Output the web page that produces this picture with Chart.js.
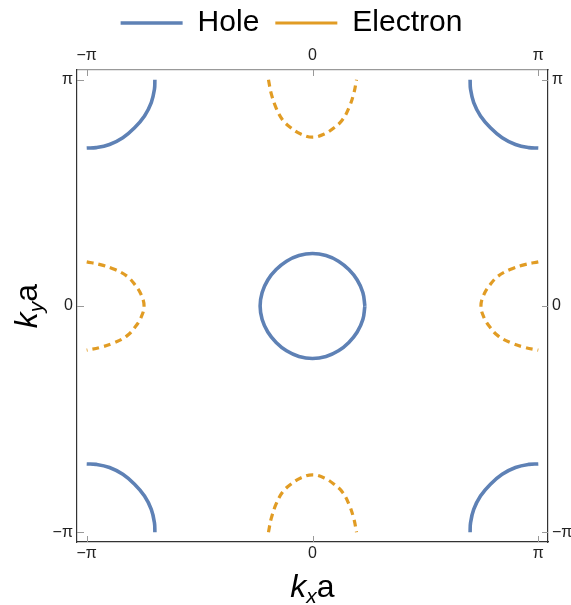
<!DOCTYPE html>
<html><head><meta charset="utf-8">
<script src="https://cdn.jsdelivr.net/npm/chart.js@4/dist/chart.umd.min.js"></script>
<style>html,body{margin:0;padding:0;background:#fff;}canvas{display:block;}</style>
</head><body>
<canvas id="c" width="571" height="605"></canvas>
<script>
// All coordinates are in units of pi (k a / pi)
const tickValues = [-1, 0, 1];
const tickLabels = ['\u2212\u03c0', '0', '\u03c0'];
const axisLimit = 1.043;
const seriesNames = ['Hole', 'Electron'];
const xTitle = ['k', 'x', 'a'];
const yTitle = ['k', 'y', 'a'];

// Hole pocket around Gamma (closed loop)
const holeGX = [0.232,0.223,0.198,0.161,0.115,0.060,0,-0.060,-0.115,-0.161,-0.198,-0.223,-0.232,-0.223,-0.198,-0.161,-0.115,-0.060,0,0.060,0.115,0.161,0.198,0.223,0.232];
const holeGY = [0,0.060,0.115,0.161,0.198,0.223,0.232,0.223,0.198,0.161,0.115,0.060,0,-0.060,-0.115,-0.161,-0.198,-0.223,-0.232,-0.223,-0.198,-0.161,-0.115,-0.060,0];

// Hole pockets at the corners
const holeTLX = [-1.000,-0.958,-0.899,-0.840,-0.788,-0.744,-0.714,-0.700,-0.698];
const holeTLY = [0.698,0.700,0.714,0.744,0.788,0.840,0.899,0.958,1.000];
const holeTRX = [1.000,0.958,0.899,0.840,0.788,0.744,0.714,0.700,0.698];
const holeTRY = [0.698,0.700,0.714,0.744,0.788,0.840,0.899,0.958,1.000];
const holeBLX = [-1.000,-0.958,-0.899,-0.840,-0.788,-0.744,-0.714,-0.700,-0.698];
const holeBLY = [-0.698,-0.700,-0.714,-0.744,-0.788,-0.840,-0.899,-0.958,-1.000];
const holeBRX = [1.000,0.958,0.899,0.840,0.788,0.744,0.714,0.700,0.698];
const holeBRY = [-0.698,-0.700,-0.714,-0.744,-0.788,-0.840,-0.899,-0.958,-1.000];

// Electron pockets at the zone-edge midpoints
const elecTX = [-0.195,-0.183,-0.161,-0.132,-0.096,-0.052,0,0.052,0.096,0.132,0.161,0.183,0.195];
const elecTY = [1.000,0.940,0.875,0.822,0.788,0.760,0.746,0.760,0.788,0.822,0.875,0.940,1.000];
const elecBX = [-0.195,-0.183,-0.161,-0.132,-0.096,-0.052,0,0.052,0.096,0.132,0.161,0.183,0.195];
const elecBY = [-1.000,-0.940,-0.875,-0.822,-0.788,-0.760,-0.746,-0.760,-0.788,-0.822,-0.875,-0.940,-1.000];
const elecRX = [1.000,0.940,0.875,0.822,0.788,0.760,0.746,0.760,0.788,0.822,0.875,0.940,1.000];
const elecRY = [0.195,0.183,0.161,0.132,0.096,0.052,0,-0.052,-0.096,-0.132,-0.161,-0.183,-0.195];
const elecLX = [-1.000,-0.940,-0.875,-0.822,-0.788,-0.760,-0.746,-0.760,-0.788,-0.822,-0.875,-0.940,-1.000];
const elecLY = [0.195,0.183,0.161,0.132,0.096,0.052,0,-0.052,-0.096,-0.132,-0.161,-0.183,-0.195];

const HOLE_COLOR = '#5E81B5';
const ELEC_COLOR = '#E19C24';
const FONT = '"Liberation Sans", Arial, sans-serif';

function pts(xs, ys) { return xs.map((x, i) => ({x: x, y: ys[i]})); }
function holeSet(xs, ys) {
  return {label: seriesNames[0], data: pts(xs, ys), showLine: true, borderColor: HOLE_COLOR,
    backgroundColor: HOLE_COLOR, borderWidth: 3.6, pointRadius: 0, tension: 0.4, fill: false,
    borderJoinStyle: 'round'};
}
function elecSet(xs, ys) {
  return {label: seriesNames[1], data: pts(xs, ys), showLine: true, borderColor: ELEC_COLOR,
    backgroundColor: ELEC_COLOR, borderWidth: 3.2, borderDash: [7, 5], pointRadius: 0, tension: 0.4,
    fill: false};
}

const datasets = [
  holeSet(holeGX, holeGY), holeSet(holeTLX, holeTLY), holeSet(holeTRX, holeTRY),
  holeSet(holeBLX, holeBLY), holeSet(holeBRX, holeBRY),
  elecSet(elecTX, elecTY), elecSet(elecBX, elecBY), elecSet(elecRX, elecRY), elecSet(elecLX, elecLY)
];

const PLOT = {left: 77, right: 548, top: 70, bottom: 542};
const PAD = {top: -8, left: 12, right: 0, bottom: 0};

function tickCb(v) { const i = tickValues.indexOf(v); return i >= 0 ? tickLabels[i] : ''; }
function setTicks(scale) { scale.ticks = tickValues.map(v => ({value: v})); }

function axis(position, borderColor, fit) {
  return {
    type: 'linear', position: position, display: true, min: -axisLimit, max: axisLimit, bounds: 'data',
    afterBuildTicks: setTicks, afterFit: fit,
    grid: {display: false, drawTicks: false, drawOnChartArea: false},
    border: {display: true, color: borderColor, width: 1.2},
    ticks: {callback: tickCb, autoSkip: false, maxRotation: 0, minRotation: 0,
      padding: (position === 'top') ? 5 : (position === 'bottom' ? 2 : 4),
      color: '#222', font: {family: FONT, size: 16}}
  };
}

const innerTicks = {
  id: 'innerTicks',
  afterDraw(chart) {
    const ctx = chart.ctx, ca = chart.chartArea;
    const sx = chart.scales.x, sy = chart.scales.y;
    ctx.save();
    ctx.strokeStyle = '#999';
    ctx.lineWidth = 1;
    ctx.beginPath();
    tickValues.forEach(v => {
      const px = Math.round(sx.getPixelForValue(v)) + 0.5;
      ctx.moveTo(px, ca.bottom); ctx.lineTo(px, ca.bottom - 6);
      ctx.moveTo(px, ca.top); ctx.lineTo(px, ca.top + 6);
      const py = Math.round(sy.getPixelForValue(v)) + 0.5;
      ctx.moveTo(ca.left, py); ctx.lineTo(ca.left + 7, py);
      ctx.moveTo(ca.right, py); ctx.lineTo(ca.right - 6, py);
    });
    ctx.stroke();
    ctx.restore();
  }
};

function drawTitle(ctx, parts, cx, baseline) {
  const fonts = ['italic 32px ' + FONT, 'italic 21px ' + FONT, '32px ' + FONT];
  const dys = [0, 6, 0];
  let w = 0;
  const widths = parts.map((p, i) => { ctx.font = fonts[i]; const m = ctx.measureText(p).width; w += m; return m; });
  let x = cx - w / 2;
  parts.forEach((p, i) => { ctx.font = fonts[i]; ctx.fillText(p, x, baseline + dys[i]); x += widths[i]; });
}

const axisTitles = {
  id: 'axisTitles',
  afterDraw(chart) {
    const ctx = chart.ctx, ca = chart.chartArea;
    ctx.save();
    ctx.fillStyle = '#000';
    ctx.textBaseline = 'alphabetic';
    ctx.textAlign = 'left';
    drawTitle(ctx, xTitle, (ca.left + ca.right) / 2, 597);
    ctx.translate(37, (ca.top + ca.bottom) / 2);
    ctx.rotate(-Math.PI / 2);
    drawTitle(ctx, yTitle, 0, 0);
    ctx.restore();
  }
};

new Chart(document.getElementById('c'), {
  type: 'scatter',
  data: {datasets: datasets},
  options: {
    responsive: false, animation: false, devicePixelRatio: 1,
    layout: {padding: PAD},
    plugins: {
      tooltip: {enabled: false},
      legend: {
        display: true, position: 'top', align: 'center',
        labels: {
          usePointStyle: true, pointStyle: 'line', pointStyleWidth: 62, padding: 16,
          color: '#000', font: {family: FONT, size: 30},
          filter: (item, data) => data.datasets.findIndex(d => d.label === item.text) === item.datasetIndex
        }
      }
    },
    scales: {
      x: axis('bottom', '#333', s => { s.height = 605 - PLOT.bottom; }),
      x2: axis('top', '#999', s => { s.height = PLOT.top - PAD.top - s.chart.legend.height; }),
      y: axis('left', '#333', s => { s.width = PLOT.left - PAD.left; }),
      y2: axis('right', '#333', s => { s.width = 571 - PLOT.right; })
    }
  },
  plugins: [innerTicks, axisTitles]
});
</script>
</body></html>
